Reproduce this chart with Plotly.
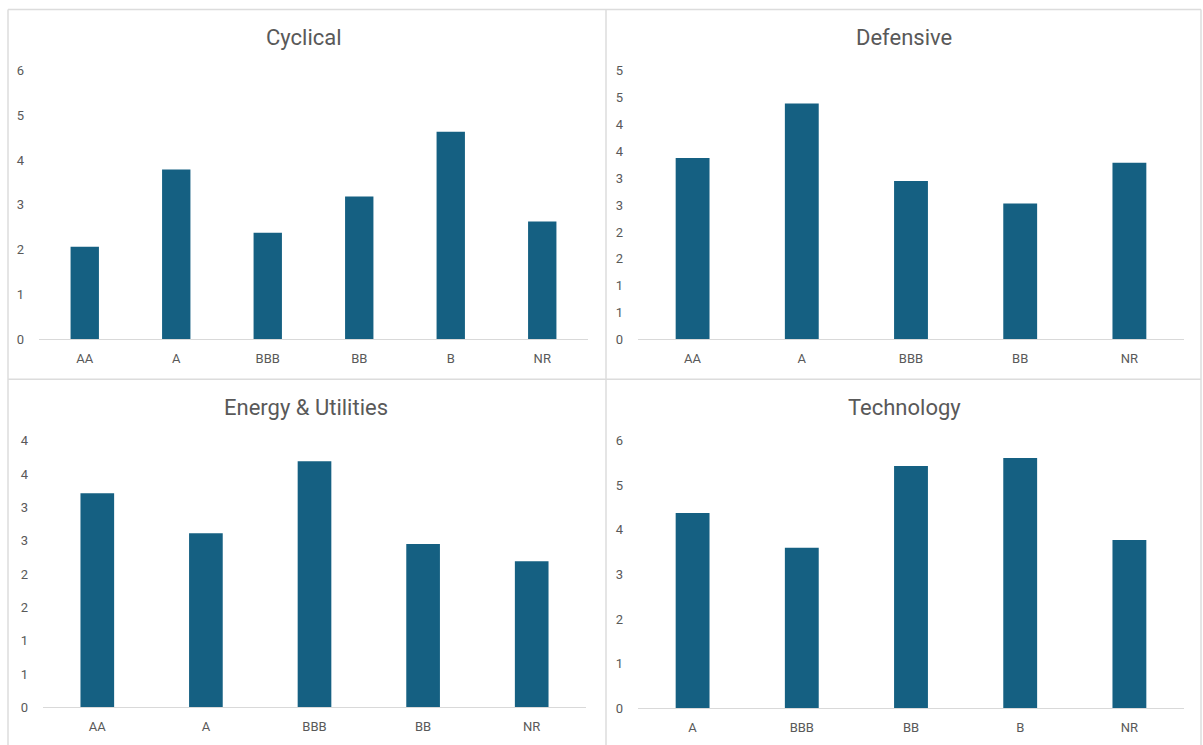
import plotly.graph_objects as go

# Average values per rating bucket, by sector
cyc_cats = ["AA", "A", "BBB", "BB", "B", "NR"]
cyc_vals = [2.07, 3.79, 2.38, 3.19, 4.63, 2.63]

def_cats = ["AA", "A", "BBB", "BB", "NR"]
def_vals = [3.38, 4.39, 2.95, 2.53, 3.29]

eu_cats = ["AA", "A", "BBB", "BB", "NR"]
eu_vals = [3.21, 2.61, 3.69, 2.45, 2.19]

tech_cats = ["A", "BBB", "BB", "B", "NR"]
tech_vals = [4.38, 3.60, 5.43, 5.61, 3.77]

W, H = 1203, 745
BAR = "#156082"
GREY = "#595959"
BORDER = "#dcdcdc"
FONT = "Roboto, 'Open Sans', sans-serif"


def px_x(x):
    return x / W


def px_y(y):
    # vertical pixel position -> paper fraction, stretched about the panel split
    y = 380 + (y - 380) / 0.983
    return 1 - y / H


fig = go.Figure()

panels = [
    # title, cats, vals, x-range px, y-range px (bottom, top), y max, dtick, title pos
    ("Cyclical", cyc_cats, cyc_vals, (39, 588), (340, 70), 6, 1, (304, 37)),
    ("Defensive", def_cats, def_vals, (638, 1184), (340, 70.5), 5, 0.5, (904, 37)),
    ("Energy & Utilities", eu_cats, eu_vals, (43, 586), (709, 441.5), 4, 0.5, (306, 408)),
    ("Technology", tech_cats, tech_vals, (638, 1184), (710, 441.5), 6, 1, (904, 408)),
]

annotations = []
for i, (title, cats, vals, xr, yr, ymax, dtick, tpos) in enumerate(panels):
    n = i + 1
    xa = "x" if n == 1 else f"x{n}"
    ya = "y" if n == 1 else f"y{n}"
    fig.add_trace(go.Bar(
        x=cats, y=vals, xaxis=xa, yaxis=ya,
        marker=dict(color=BAR, line=dict(width=0)),
        width=0.31, showlegend=False, hoverinfo="x+y",
    ))
    xkey = "xaxis" if n == 1 else f"xaxis{n}"
    ykey = "yaxis" if n == 1 else f"yaxis{n}"
    fig.update_layout(**{
        xkey: dict(
            domain=[px_x(xr[0]), px_x(xr[1])], anchor=ya,
            showline=True, linecolor="#d9d9d9", linewidth=1,
            showgrid=False, ticks="", zeroline=False,
            tickfont=dict(family=FONT, size=13, color=GREY),
            ticklabelstandoff=7, fixedrange=True,
        ),
        ykey: dict(
            domain=[px_y(yr[0]), px_y(yr[1])], anchor=xa,
            range=[0, ymax], tickmode="linear", tick0=0, dtick=dtick,
            tickformat=".0f", showline=False, showgrid=False,
            zeroline=False, ticks="",
            tickfont=dict(family=FONT, size=13, color=GREY),
            ticklabelstandoff=14, fixedrange=True,
        ),
    })
    annotations.append(dict(
        text=title, x=px_x(tpos[0]), y=px_y(tpos[1]), xref="paper", yref="paper",
        xanchor="center", yanchor="middle", showarrow=False,
        font=dict(family=FONT, size=22, color=GREY),
    ))

# Chart-box borders
lines = [
    (8, 9, 1201, 9),
    (8, 380, 1201, 380),
    (8, 9, 8, 760),
    (606, 9, 606, 760),
    (1201, 9, 1201, 760),
]
shapes = [
    dict(type="line", xref="paper", yref="paper",
         x0=px_x(a), y0=px_y(b), x1=px_x(c), y1=px_y(d),
         line=dict(color=BORDER, width=1.5))
    for a, b, c, d in lines
]

fig.update_layout(
    width=W, height=H,
    margin=dict(l=0, r=0, t=0, b=0),
    paper_bgcolor="white", plot_bgcolor="white",
    annotations=annotations, shapes=shapes,
    bargap=0.69,
)

fig.write_html("out.html", config={"displayModeBar": False})
